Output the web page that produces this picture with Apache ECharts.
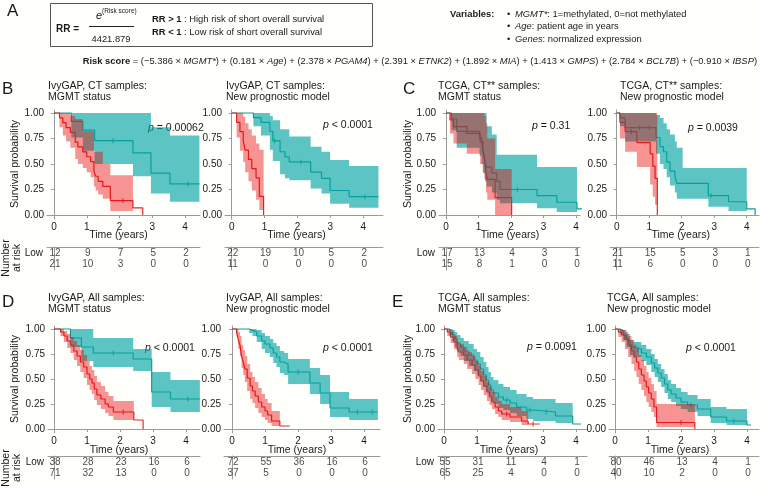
<!DOCTYPE html>
<html><head><meta charset="utf-8">
<script src="https://cdn.jsdelivr.net/npm/echarts@6/dist/echarts.min.js"></script>
<style>html,body{margin:0;padding:0;background:#fffffb;}#c{width:761px;height:488px;}</style>
</head><body><div id="c"></div>
<script>
// ===== DATA =====
const riskTimes = [0, 1, 2, 3, 4];
const yTicks = [0, 0.25, 0.5, 0.75, 1];
// Kaplan-Meier rows: [time (years), survival, lower CI, upper CI]; null CI = band ended
const ivyCtMgmtLow = [[0,1,1,1],[0.53,0.917,0.76,1],[0.88,0.833,0.63,1],[1.24,0.729,0.5,1],[2.41,0.61,0.38,1],[2.96,0.41,0.21,0.86],[3.54,0.305,0.13,0.78],[4.44,0.305,0.13,0.78]];
const ivyCtMgmtHigh = [[0,1,1,1],[0.17,0.952,0.86,1],[0.27,0.905,0.78,1],[0.37,0.857,0.72,1],[0.5,0.81,0.66,0.97],[0.65,0.714,0.55,0.94],[0.73,0.667,0.5,0.94],[0.88,0.619,0.46,0.82],[1.0,0.571,0.42,0.82],[1.12,0.524,0.37,0.82],[1.22,0.43,0.28,0.62],[1.27,0.38,0.24,0.62],[1.35,0.33,0.2,0.62],[1.49,0.28,0.16,0.5],[1.72,0.14,0.04,0.39],[2.41,0.07,null,null],[2.71,0,null,null]];
const ivyCtMgmtLowCens = [1.8, 4.1];
const ivyCtMgmtHighCens = [2.1];
const ivyCtMgmtRiskLow = [12, 9, 7, 5, 2];
const ivyCtMgmtRiskHigh = [21, 10, 3, 0, 0];

const ivyCtModelLow = [[0,1,1,1],[0.66,0.955,0.87,1],[0.89,0.909,0.78,1],[1.16,0.82,0.64,0.97],[1.25,0.727,0.53,0.93],[1.47,0.62,0.4,0.84],[1.62,0.57,0.36,0.84],[1.75,0.52,0.34,0.77],[2.4,0.42,0.26,0.67],[2.73,0.36,0.21,0.62],[2.99,0.24,0.11,0.54],[3.57,0.18,0.07,0.48],[4.46,0.18,0.07,0.48]];
const ivyCtModelHigh = [[0,1,1,1],[0.15,0.909,0.76,1],[0.25,0.818,0.63,1],[0.35,0.727,0.52,0.96],[0.41,0.636,0.42,0.9],[0.51,0.545,0.33,0.84],[0.61,0.455,0.24,0.78],[0.74,0.364,0.15,0.7],[0.84,0.182,0.05,0.64],[0.97,0,null,null]];
const ivyCtModelLowCens = [1.3, 2.1, 4.05];
const ivyCtModelHighCens = [];
const ivyCtModelRiskLow = [22, 19, 10, 5, 2];
const ivyCtModelRiskHigh = [11, 0, 0, 0, 0];

const tcgaCtMgmtLow = [[0,1,1,1],[0.17,0.941,0.83,1],[0.33,0.82,0.66,1],[1.03,0.76,0.58,1],[1.1,0.7,0.5,1],[1.15,0.6,0.41,1],[1.2,0.52,0.33,1],[1.25,0.47,0.28,0.87],[1.41,0.41,0.22,0.79],[1.56,0.33,0.15,0.59],[1.66,0.25,0.115,0.59],[2.8,0.19,0.065,0.47],[3.41,0.125,0.03,0.47],[4.03,0.06,null,null],[4.18,0.06,null,null]];
const tcgaCtMgmtHigh = [[0,1,1,1],[0.12,0.933,0.8,1],[0.23,0.867,0.7,1],[0.64,0.8,0.6,1],[1.05,0.72,0.5,1],[1.13,0.65,0.42,1],[1.18,0.58,0.35,0.97],[1.23,0.43,0.22,0.9],[1.27,0.35,0.15,0.75],[1.51,0.17,0.0,0.45],[2.02,0,null,null]];
const tcgaCtMgmtLowCens = [2.2];
const tcgaCtMgmtHighCens = [];
const tcgaCtMgmtRiskLow = [17, 13, 4, 3, 1];
const tcgaCtMgmtRiskHigh = [15, 8, 1, 0, 0];

const tcgaCtModelLow = [[0,1,1,1],[0.1,0.952,0.87,1],[0.26,0.857,0.72,1],[1.21,0.76,0.6,0.98],[1.33,0.67,0.5,0.95],[1.44,0.62,0.45,0.9],[1.54,0.52,0.37,0.84],[1.64,0.43,0.29,0.79],[1.79,0.38,0.22,0.72],[1.85,0.31,0.16,0.66],[2.03,0.31,0.16,0.46],[2.82,0.19,0.08,0.46],[3.44,0.13,0.04,0.46],[4.0,0.06,null,null],[4.26,0,null,null]];
const tcgaCtModelHigh = [[0,1,1,1],[0.1,0.909,0.75,1],[0.26,0.818,0.62,1],[0.62,0.71,0.47,1],[1.03,0.6,0.3,1],[1.11,0.48,0.18,1],[1.18,0.36,0.1,1],[1.25,0,null,null]];
const tcgaCtModelLowCens = [0.7, 1.0, 2.9];
const tcgaCtModelHighCens = [0.45];
const tcgaCtModelRiskLow = [21, 15, 5, 3, 1];
const tcgaCtModelRiskHigh = [11, 6, 0, 0, 0];

const ivyAllMgmtLow = [[0,1,1,1],[0.5,0.91,0.82,1],[0.83,0.82,0.68,1],[1.19,0.76,0.62,0.91],[2.4,0.7,0.58,0.8],[2.96,0.37,0.22,0.57],[3.53,0.3,0.17,0.49],[4.42,0.3,0.17,0.49]];
const ivyAllMgmtHigh = [[0,1,1,1],[0.2,0.97,0.93,1],[0.3,0.93,0.87,0.98],[0.4,0.88,0.81,0.95],[0.5,0.84,0.76,0.92],[0.6,0.78,0.69,0.88],[0.7,0.73,0.63,0.84],[0.8,0.67,0.57,0.79],[0.9,0.62,0.51,0.74],[1.0,0.55,0.44,0.68],[1.08,0.5,0.39,0.63],[1.15,0.46,0.35,0.59],[1.22,0.4,0.29,0.53],[1.3,0.34,0.24,0.47],[1.42,0.3,0.2,0.43],[1.55,0.25,0.16,0.37],[1.65,0.22,0.13,0.33],[1.8,0.17,0.09,0.28],[2.42,0.09,null,null],[2.7,0,null,null]];
const ivyAllMgmtLowCens = [1.8, 4.05];
const ivyAllMgmtHighCens = [2.1];
const ivyAllMgmtRiskLow = [38, 28, 23, 16, 6];
const ivyAllMgmtRiskHigh = [71, 32, 13, 0, 0];

const ivyAllModelLow = [[0,1,1,1],[0.52,0.986,0.96,1],[0.62,0.97,0.93,1],[0.75,0.93,0.87,0.99],[0.9,0.88,0.8,0.96],[1.0,0.85,0.76,0.93],[1.15,0.81,0.72,0.9],[1.25,0.76,0.66,0.86],[1.35,0.72,0.62,0.83],[1.45,0.67,0.56,0.78],[1.58,0.65,0.54,0.76],[1.7,0.57,0.45,0.7],[2.36,0.46,0.35,0.61],[2.67,0.36,0.25,0.54],[2.97,0.21,0.12,0.37],[3.55,0.17,0.09,0.3],[4.42,0.17,0.09,0.3]];
const ivyAllModelHigh = [[0,1,1,1],[0.14,0.97,0.92,1],[0.19,0.89,0.8,0.97],[0.24,0.84,0.73,0.93],[0.29,0.73,0.61,0.84],[0.34,0.67,0.54,0.79],[0.39,0.6,0.47,0.73],[0.46,0.51,0.38,0.65],[0.55,0.43,0.3,0.57],[0.62,0.38,0.26,0.52],[0.7,0.33,0.21,0.47],[0.8,0.27,0.16,0.41],[0.9,0.22,0.12,0.35],[1.0,0.18,0.09,0.3],[1.08,0.14,0.06,0.26],[1.2,0.08,0.03,0.18],[1.45,0.03,null,null],[1.75,0.03,null,null]];
const ivyAllModelLowCens = [2.0, 3.8, 4.25];
const ivyAllModelHighCens = [];
const ivyAllModelRiskLow = [72, 55, 36, 16, 6];
const ivyAllModelRiskHigh = [37, 5, 0, 0, 0];

const tcgaAllMgmtLow = [[0,1,1,1],[0.15,0.98,0.94,1],[0.25,0.94,0.88,0.99],[0.33,0.9,0.82,0.97],[0.4,0.86,0.78,0.94],[0.5,0.82,0.73,0.91],[0.6,0.78,0.68,0.88],[0.75,0.74,0.63,0.85],[0.9,0.69,0.58,0.8],[1.0,0.65,0.54,0.77],[1.1,0.6,0.48,0.72],[1.2,0.54,0.42,0.67],[1.28,0.49,0.37,0.62],[1.35,0.44,0.33,0.57],[1.42,0.39,0.28,0.52],[1.5,0.36,0.25,0.49],[1.65,0.32,0.21,0.45],[1.8,0.29,0.19,0.42],[2.0,0.26,0.16,0.39],[2.2,0.22,0.13,0.35],[2.5,0.19,0.1,0.32],[2.7,0.17,0.08,0.3],[3.38,0.13,0.06,0.26],[3.9,0.05,null,null],[4.15,0.05,null,null]];
const tcgaAllMgmtHigh = [[0,1,1,1],[0.1,0.97,0.93,1],[0.2,0.92,0.86,0.97],[0.3,0.87,0.8,0.93],[0.4,0.8,0.72,0.87],[0.45,0.77,0.69,0.85],[0.6,0.74,0.65,0.82],[0.7,0.69,0.6,0.77],[0.85,0.64,0.55,0.73],[0.95,0.59,0.5,0.68],[1.05,0.53,0.44,0.63],[1.12,0.48,0.39,0.58],[1.2,0.43,0.34,0.53],[1.3,0.37,0.28,0.47],[1.38,0.32,0.24,0.42],[1.45,0.27,0.2,0.37],[1.55,0.22,0.15,0.32],[1.65,0.18,0.12,0.28],[1.75,0.15,0.09,0.25],[2.0,0.12,0.07,0.22],[2.35,0.08,0.04,0.18],[2.55,0.05,null,null],[2.9,0.05,null,null]];
const tcgaAllMgmtLowCens = [1.9, 2.6, 3.1];
const tcgaAllMgmtHighCens = [1.9, 2.7];
const tcgaAllMgmtRiskLow = [55, 31, 11, 4, 1];
const tcgaAllMgmtRiskHigh = [65, 25, 4, 0, 0];

const tcgaAllModelLow = [[0,1,1,1],[0.15,0.98,0.95,1],[0.25,0.94,0.89,0.99],[0.35,0.89,0.82,0.95],[0.45,0.82,0.74,0.89],[0.55,0.8,0.72,0.87],[0.8,0.76,0.68,0.84],[0.95,0.72,0.64,0.8],[1.1,0.66,0.57,0.75],[1.2,0.61,0.52,0.7],[1.3,0.56,0.47,0.65],[1.4,0.51,0.42,0.6],[1.5,0.45,0.36,0.55],[1.6,0.39,0.3,0.49],[1.7,0.35,0.27,0.45],[1.85,0.31,0.23,0.41],[2.0,0.27,0.2,0.37],[2.2,0.24,0.17,0.34],[2.5,0.2,0.13,0.3],[2.9,0.12,0.06,0.22],[3.38,0.08,0.04,0.2],[4.0,0.04,null,null],[4.12,0.04,null,null]];
const tcgaAllModelHigh = [[0,1,1,1],[0.1,0.97,0.92,1],[0.2,0.94,0.87,0.99],[0.3,0.9,0.8,0.97],[0.4,0.84,0.72,0.93],[0.5,0.78,0.65,0.89],[0.58,0.72,0.58,0.84],[0.65,0.67,0.52,0.8],[0.72,0.6,0.45,0.74],[0.8,0.54,0.39,0.69],[0.88,0.48,0.33,0.63],[0.95,0.42,0.27,0.57],[1.02,0.36,0.22,0.51],[1.1,0.3,0.17,0.45],[1.18,0.22,0.12,0.38],[1.26,0.065,0.02,0.25],[2.42,0,null,null]];
const tcgaAllModelLowCens = [0.7, 2.3, 3.6];
const tcgaAllModelHighCens = [2.0];
const tcgaAllModelRiskLow = [80, 46, 13, 4, 1];
const tcgaAllModelRiskHigh = [40, 10, 2, 0, 0];

// ===== LAYOUT / STYLE =====
const FONT = '"Liberation Sans", Arial, Helvetica, sans-serif';
const TEAL_LINE = '#0f9f95', RED_LINE = '#e4282c';
const TEAL_BAND = 'rgba(0,162,162,0.64)', RED_BAND = 'rgba(232,0,0,0.42)';
const AXIS = '#9a9a9a', TXT = '#1a1a1a';
const FS = 10;
const FA = 9.4;

const rowGeom = [
  {y1:113, ppu:102, tableTop:247, title1:86, title2:97.5, timeY:235, survY:164, narY:258, letterY:89},
  {y1:329, ppu:100, tableTop:456, title1:298, title2:309.5, timeY:450, survY:379, narY:468, letterY:302}
];
const panels = [
  {row:0, axisX:47, x0:54, ppy:32.75, right:200, titleX:48, t1:'IvyGAP, CT samples:', t2:'MGMT status', p:' = 0.00062', pX:148, pY:128,
   low:ivyCtMgmtLow, high:ivyCtMgmtHigh, lowC:ivyCtMgmtLowCens, highC:ivyCtMgmtHighCens, rL:ivyCtMgmtRiskLow, rH:ivyCtMgmtRiskHigh, first:true, letter:'B', letterX:2, survX:15, nar:true},
  {row:0, axisX:225, x0:231.7, ppy:32.9, right:383, titleX:226, t1:'IvyGAP, CT samples:', t2:'New prognostic model', p:' < 0.0001', pX:323, pY:125,
   low:ivyCtModelLow, high:ivyCtModelHigh, lowC:ivyCtModelLowCens, highC:ivyCtModelHighCens, rL:ivyCtModelRiskLow, rH:ivyCtModelRiskHigh, first:false},
  {row:0, axisX:439, x0:446, ppy:32.5, right:580, titleX:438, t1:'TCGA, CT** samples:', t2:'MGMT status', p:' = 0.31', pX:532, pY:126,
   low:tcgaCtMgmtLow, high:tcgaCtMgmtHigh, lowC:tcgaCtMgmtLowCens, highC:tcgaCtMgmtHighCens, rL:tcgaCtMgmtRiskLow, rH:tcgaCtMgmtRiskHigh, first:true, letter:'C', letterX:403, survX:408},
  {row:0, axisX:610, x0:616.7, ppy:32.5, right:759, titleX:620, t1:'TCGA, CT** samples:', t2:'New prognostic model', p:' = 0.0039', pX:688, pY:128,
   low:tcgaCtModelLow, high:tcgaCtModelHigh, lowC:tcgaCtModelLowCens, highC:tcgaCtModelHighCens, rL:tcgaCtModelRiskLow, rH:tcgaCtModelRiskHigh, first:false},
  {row:1, axisX:48, x0:54, ppy:33, right:200, titleX:48, t1:'IvyGAP, All samples:', t2:'MGMT status', p:' < 0.0001', pX:145, pY:348,
   low:ivyAllMgmtLow, high:ivyAllMgmtHigh, lowC:ivyAllMgmtLowCens, highC:ivyAllMgmtHighCens, rL:ivyAllMgmtRiskLow, rH:ivyAllMgmtRiskHigh, first:true, letter:'D', letterX:2, survX:15, nar:true},
  {row:1, axisX:224, x0:232, ppy:33, right:380, titleX:226, t1:'IvyGAP, All samples:', t2:'New prognostic model', p:' < 0.0001', pX:323, pY:348,
   low:ivyAllModelLow, high:ivyAllModelHigh, lowC:ivyAllModelLowCens, highC:ivyAllModelHighCens, rL:ivyAllModelRiskLow, rH:ivyAllModelRiskHigh, first:false},
  {row:1, axisX:438, x0:444, ppy:33, right:587, titleX:438, t1:'TCGA, All samples:', t2:'MGMT status', p:' = 0.0091', pX:527, pY:347,
   low:tcgaAllMgmtLow, high:tcgaAllMgmtHigh, lowC:tcgaAllMgmtLowCens, highC:tcgaAllMgmtHighCens, rL:tcgaAllMgmtRiskLow, rH:tcgaAllMgmtRiskHigh, first:true, letter:'E', letterX:392, survX:408},
  {row:1, axisX:609, x0:615, ppy:33, right:759, titleX:607, t1:'TCGA, All samples:', t2:'New prognostic model', p:' < 0.0001', pX:686, pY:348,
   low:tcgaAllModelLow, high:tcgaAllModelHigh, lowC:tcgaAllModelLowCens, highC:tcgaAllModelHighCens, rL:tcgaAllModelRiskLow, rH:tcgaAllModelRiskHigh, first:false}
];

function stepAt(rows, t) { let v = rows[0][1]; for (const r of rows) { if (r[0] <= t) v = r[1]; } return v; }
function bandPoints(rows, api) {
  let k = rows.length - 1;
  for (let i = 0; i < rows.length; i++) { if (rows[i][2] == null) { k = i; break; } }
  const up = [], lo = [];
  for (let i = 0; i < k; i++) {
    up.push(api.coord([rows[i][0], rows[i][3]]), api.coord([rows[i + 1][0], rows[i][3]]));
    lo.push(api.coord([rows[i][0], rows[i][2]]), api.coord([rows[i + 1][0], rows[i][2]]));
  }
  return up.concat(lo.reverse());
}
function txt(x, y, text, extra) {
  return {type:'text', x:x, y:y, silent:true, style:Object.assign({text:text, fontSize:FS, fontFamily:FONT, fill:TXT, verticalAlign:'middle'}, extra || {})};
}

const grids = [], xAxes = [], yAxes = [], series = [], graphics = [];
panels.forEach(function (p) {
  const g = rowGeom[p.row];
  const xmin = (p.axisX - p.x0) / p.ppy, xmax = (p.right - p.x0) / p.ppy;
  const gi = grids.length;
  grids.push({left:p.axisX, top:g.y1 - 0.03 * g.ppu, width:p.right - p.axisX, height:1.07 * g.ppu});
  grids.push({left:p.axisX, top:g.tableTop, width:p.right - p.axisX, height:23});
  xAxes.push({gridIndex:gi, type:'value', min:xmin, max:xmax,
    axisLine:{show:true, lineStyle:{color:AXIS, width:1}},
    axisTick:{show:true, customValues:riskTimes, length:3, lineStyle:{color:AXIS}},
    axisLabel:{show:true, customValues:riskTimes, fontSize:FS, color:TXT, margin:3, fontFamily:FONT},
    splitLine:{show:false}});
  yAxes.push({gridIndex:gi, type:'value', min:-0.04, max:1.03,
    axisLine:{show:true, lineStyle:{color:AXIS, width:1}},
    axisTick:{show:true, customValues:yTicks, length:3, lineStyle:{color:AXIS}},
    axisLabel:{show:true, customValues:yTicks, formatter:function (v) { return v.toFixed(2); }, fontSize:FS, color:TXT, margin:3, fontFamily:FONT},
    splitLine:{show:false}});
  xAxes.push({gridIndex:gi + 1, type:'value', min:xmin, max:xmax, position:'top',
    axisLine:{show:true, lineStyle:{color:AXIS, width:1}}, axisTick:{show:false}, axisLabel:{show:false}, splitLine:{show:false}});
  yAxes.push({gridIndex:gi + 1, type:'category', data:['Low', 'High'], inverse:true,
    axisLine:{show:true, lineStyle:{color:AXIS, width:1}}, axisTick:{show:false},
    axisLabel:{show:p.first, fontSize:FS, color:TXT, margin:4, fontFamily:FONT}, splitLine:{show:false}});

  const common = {xAxisIndex:gi, yAxisIndex:gi, silent:true, animation:false};
  [[p.low, TEAL_LINE], [p.high, RED_LINE]].forEach(function (c) {
    series.push(Object.assign({type:'line', step:'end', data:c[0].map(function (r) { return [r[0], r[1]]; }),
      showSymbol:false, symbol:'none', lineStyle:{color:c[1], width:1.2}, z:2}, common));
  });
  [[p.low, p.lowC, TEAL_LINE], [p.high, p.highC, RED_LINE]].forEach(function (c) {
    series.push(Object.assign({type:'scatter', data:c[1].map(function (t) { return [t, stepAt(c[0], t)]; }),
      symbol:'rect', symbolSize:[1.2, 5], itemStyle:{color:c[2]}, z:2}, common));
  });
  [[p.low, TEAL_BAND, 3], [p.high, RED_BAND, 4]].forEach(function (c) {
    series.push(Object.assign({type:'custom', data:[[0, 0.5]], z:c[2], clip:false,
      renderItem:function (params, api) { return {type:'polygon', shape:{points:bandPoints(c[0], api)}, style:{fill:c[1], stroke:null}}; }}, common));
  });
  // number-at-risk table
  [['Low', p.rL], ['High', p.rH]].forEach(function (c) {
    series.push({type:'scatter', xAxisIndex:gi + 1, yAxisIndex:gi + 1, silent:true, animation:false,
      data:riskTimes.map(function (t, j) { return [t, c[0], c[1][j]]; }),
      symbol:'circle', symbolSize:1, itemStyle:{color:'rgba(0,0,0,0)'},
      label:{show:true, position:'inside', offset:[1, 0], formatter:function (q) { return String(q.value[2]); }, fontSize:FS, color:TXT, fontFamily:FONT}});
  });

  graphics.push(txt(p.titleX, g.title1, p.t1, {fontSize:10.5}));
  graphics.push(txt(p.titleX, g.title2, p.t2, {fontSize:10.5}));
  graphics.push(txt(p.pX, p.pY, '{i|p}' + p.p, {fontSize:10.5, rich:{i:{fontStyle:'italic', fontSize:10.5, fontFamily:FONT, fill:TXT}}}));
  graphics.push(txt(p.x0 + 1.97 * p.ppy, g.timeY, 'Time (years)', {align:'center', fontSize:10.5}));
  if (p.first) {
    graphics.push(txt(p.letterX, g.letterY, p.letter, {fontSize:17}));
    graphics.push(Object.assign(txt(p.survX, g.survY, 'Survival probability', {align:'center', fontSize:10.5}), {rotation:Math.PI / 2}));
  }
  if (p.nar) {
    graphics.push(Object.assign(txt(12, g.narY, 'Number\nat risk', {align:'center', fontSize:10.5, lineHeight:11}), {rotation:Math.PI / 2}));
  }
});

// ===== Section A =====
const it = {fontStyle:'italic', fontFamily:FONT, fontSize:FA, fill:TXT};
const bd = {fontWeight:'bold', fontFamily:FONT, fontSize:FA, fill:TXT};
graphics.push(txt(7, 11, 'A', {fontSize:17}));
graphics.push({type:'rect', silent:true, shape:{x:50.5, y:3.5, width:322, height:43}, style:{fill:'none', stroke:'#555', lineWidth:1}});
graphics.push(txt(56, 29.5, 'RR =', {fontWeight:'bold', fontSize:10}));
graphics.push(txt(96, 16, 'e', {fontStyle:'italic', fontSize:11}));
graphics.push(txt(102, 11, '(Risk score)', {fontSize:6.5}));
graphics.push({type:'line', silent:true, shape:{x1:89, y1:26.5, x2:134, y2:26.5}, style:{stroke:'#222', lineWidth:1}});
graphics.push(txt(111, 39, '4421.879', {align:'center', fontSize:FA}));
graphics.push(txt(152, 19, '{b|RR > 1} : High risk of short overall survival', {fontSize:FA, rich:{b:bd}}));
graphics.push(txt(152, 32.5, '{b|RR < 1} : Low risk of short overall survival', {fontSize:FA, rich:{b:bd}}));
graphics.push(txt(450, 14, 'Variables:', {fontWeight:'bold', fontSize:FA}));
graphics.push(txt(507, 14, '\u2022', {fontSize:FA}));
graphics.push(txt(507, 26.5, '\u2022', {fontSize:FA}));
graphics.push(txt(507, 39, '\u2022', {fontSize:FA}));
graphics.push(txt(515, 14, '{i|MGMT*}: 1=methylated, 0=not methylated', {fontSize:FA, rich:{i:it}}));
graphics.push(txt(515, 26.5, '{i|Age}: patient age in years', {fontSize:FA, rich:{i:it}}));
graphics.push(txt(515, 39, '{i|Genes}: normalized expression', {fontSize:FA, rich:{i:it}}));
graphics.push(txt(757, 61, '{b|Risk score} = (\u22125.386 \u00d7 {i|MGMT*}) + (0.181 \u00d7 {i|Age}) + (2.378 \u00d7 {i|PGAM4}) + (2.391 \u00d7 {i|ETNK2}) + (1.892 \u00d7 {i|MIA}) + (1.413 \u00d7 {i|GMPS}) + (2.784 \u00d7 {i|BCL7B}) + (\u22120.910 \u00d7 {i|IBSP})', {align:'right', fontSize:FA, rich:{b:bd, i:it}}));

const chart = echarts.init(document.getElementById('c'), null, {renderer:'canvas'});
chart.setOption({
  backgroundColor:'#fffffb', animation:false,
  textStyle:{fontFamily:FONT},
  grid:grids, xAxis:xAxes, yAxis:yAxes, series:series, graphic:graphics
});
</script></body></html>
